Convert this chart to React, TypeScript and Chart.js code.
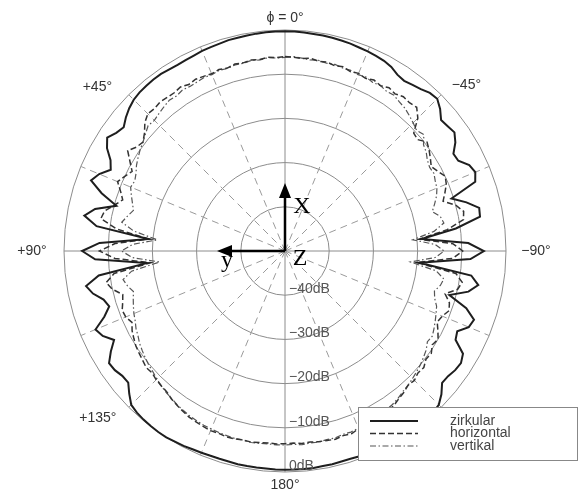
import { useEffect, useRef } from "react";
import { Chart, registerables } from "chart.js";

Chart.register(...registerables);

// Angular resolution of the measured pattern (degrees)
const STEP_DEG = 2.5;

// Right half: phi = 0° ... −180° (clockwise from top), dB
const zirkularRight = [
  -0.3, -0.3, -0.4, -0.5, -0.5, -0.6, -0.7, -0.8, -1.0, -1.1,
  -1.3, -1.5, -1.9, -2.7, -3.0, -2.6, -2.2, -1.5, -1.3, -2.4,
  -3.9, -3.6, -3.2, -4.3, -6.0, -5.8, -4.0, -3.4, -4.2, -10.5,
  -7.5, -5.0, -5.2, -11, -19, -8.5, -5.0, -8.0, -19.5, -7.5,
  -5.6, -7.5, -11.5, -7.0, -4.5, -5.0, -7.0, -6.5, -3.5, -2.8,
  -3.0, -3.5, -3.6, -2.0, -0.8, -0.4, -0.2, -0.1, 0, 0,
  -0.1, -0.2, -0.4, -0.5, -0.6, -0.7, -0.7, -0.6, -0.6, -0.5,
  -0.5, -0.5, -0.5,
];
// Left half: phi = +2.5° ... +177.5°, dB
const zirkularLeft = [
  -0.3, -0.3, -0.4, -0.5, -0.6, -0.6, -0.8, -0.9, -1.0, -1.2,
  -1.3, -1.4, -1.3, -1.1, -1.1, -1.2, -1.3, -1.6, -2.2, -3.0,
  -4.0, -3.4, -2.3, -3.5, -5.5, -6.5, -4.5, -3.3, -6.5, -10.5,
  -6.0, -3.9, -7, -19, -8, -4.1, -7, -18.6, -7.5, -4.3,
  -5.5, -7.5, -8.3, -6.5, -3.6, -4.5, -6.4, -4.5, -2.8, -3.0,
  -3.6, -3.7, -2.2, -0.8, -0.4, -0.2, -0.1, 0, 0, -0.2,
  -0.3, -0.5, -0.6, -0.7, -0.7, -0.7, -0.6, -0.6, -0.6, -0.6,
  -0.5,
];

const horizontalRight = [
  -6.0, -6.1, -6.3, -6.0, -6.4, -6.2, -6.6, -6.3, -6.8, -6.5,
  -6.9, -6.4, -6.8, -6.2, -6.6, -6.0, -6.2, -5.9, -7.5, -10.5,
  -10.8, -9.5, -10.2, -11.0, -11.8, -11.0, -10.0, -10.5, -11.5, -12.5,
  -10.0, -8.6, -9.0, -13, -19.5, -12, -9.8, -12, -20, -11,
  -9.3, -10, -12.5, -11, -10.5, -11.5, -12.0, -11.0, -10.0, -10.5,
  -9.6, -9.8, -9.0, -9.2, -8.6, -8.8, -8.2, -7.8, -7.2, -7.0,
  -6.6, -6.8, -6.3, -6.5, -6.0, -6.2, -5.9, -6.1, -6.2, -6.4,
  -6.3, -6.5, -6.4,
];
const horizontalLeft = [
  -6.2, -6.0, -6.3, -6.1, -6.4, -6.2, -6.6, -6.3, -6.6, -6.4,
  -6.2, -6.5, -6.0, -6.3, -6.2, -6.0, -6.3, -6.1, -7.0, -8.5,
  -9.5, -9.0, -7.8, -9.5, -11.0, -10.0, -9.0, -10.4, -11.5, -10.0,
  -8.2, -7.7, -11.5, -19.0, -11.5, -8.0, -11.5, -19.5, -11.0, -8.9,
  -10.0, -12.0, -11.5, -10.8, -11.0, -11.8, -11.0, -10.5, -10.0, -9.7,
  -9.4, -9.0, -9.2, -8.8, -8.6, -8.4, -7.8, -7.4, -7.0, -6.6,
  -6.4, -6.2, -6.0, -6.1, -5.9, -6.0, -6.2, -6.1, -6.3, -6.4,
  -6.3,
];

const vertikalRight = [
  -6.2, -6.0, -6.2, -6.4, -6.2, -6.5, -6.3, -6.6, -6.5, -6.8,
  -6.6, -7.0, -6.8, -7.2, -7.0, -7.5, -7.8, -8.4, -9.0, -9.6,
  -9.0, -10.5, -11.0, -11.8, -12.2, -12.0, -12.5, -12.8, -13.5, -14.5,
  -15.5, -14.0, -13.5, -16, -21, -16, -14, -16, -21.5, -15.5,
  -13.5, -14, -15, -14.5, -13.5, -13, -12.5, -12, -11.5, -11.8,
  -11, -10.5, -10, -9.6, -9.2, -8.8, -8.5, -8.0, -7.6, -7.4,
  -7.0, -6.8, -6.5, -6.6, -6.4, -6.5, -6.2, -6.3, -6.1, -6.2,
  -6.0, -6.2, -6.1,
];
const vertikalLeft = [
  -6.3, -6.1, -6.4, -6.2, -6.5, -6.4, -6.7, -6.5, -6.8, -6.7,
  -6.9, -7.0, -6.8, -7.2, -7.0, -7.4, -7.8, -8.2, -8.0, -8.8,
  -9.5, -10.0, -10.6, -11.2, -12.0, -12.5, -12.2, -13.0, -13.8, -14.5,
  -13.5, -12.5, -15.5, -21, -15.5, -13, -15.5, -21.5, -15, -12.8,
  -13.5, -14.5, -14, -13.5, -13, -12.6, -12, -11.6, -11, -10.6,
  -10.2, -9.8, -9.5, -9.0, -8.6, -8.2, -7.9, -7.5, -7.2, -6.9,
  -6.7, -6.5, -6.4, -6.3, -6.2, -6.1, -6.2, -6.0, -6.1, -6.2,
  -6.1,
];

const seriesNames = ["zirkular", "horizontal", "vertikal"];
const ringLabels = ["−40dB", "−30dB", "−20dB", "−10dB", "0dB"];
const ringValues = [-40, -30, -20, -10, 0];
const directionLabels = ["ϕ = 0°", "−45°", "−90°", "180°", "+135°", "+90°", "+45°"];
const directionAngles = [0, 47.5, 90, 180, 228.2, 270, 311.1]; // clockwise from top
const axisLetters = ["X", "y", "Z"];

// full circle, clockwise from top: phi 0 → −180 → +177.5 → +2.5
const fullCircle = (right: number[], left: number[]) => [...right, ...[...left].reverse()];
const angleCategories = fullCircle(
  zirkularRight.map((_, i) => (i === 0 ? "0°" : `−${i * STEP_DEG}°`)).map((s, i) => (i === 72 ? "180°" : s)),
  zirkularLeft.map((_, i) => `+${(i + 1) * STEP_DEG}°`)
);

const overlayPlugin = {
  id: "overlay",
  afterDatasetsDraw(chart: any) {
    const r = chart.scales.r;
    const ctx = chart.ctx;
    const n = angleCategories.length;
    ctx.save();
    // ring labels along the 180° spoke
    ctx.font = "14px 'Liberation Sans', Arial, sans-serif";
    ctx.fillStyle = "#555";
    ctx.textAlign = "left";
    ctx.textBaseline = "middle";
    ringValues.forEach((v, i) => {
      const d = r.getDistanceFromCenterForValue(v);
      ctx.fillText(ringLabels[i], r.xCenter + 4, r.yCenter + d - 6);
    });
    // direction labels
    const pads = [12, 25, 30, 13, 30, 32, 28];
    ctx.fillStyle = "#333";
    ctx.textAlign = "center";
    directionLabels.forEach((lab, i) => {
      const p = r.getPointPosition((directionAngles[i] / 360) * n, r.drawingArea + pads[i]);
      ctx.fillText(lab, p.x, p.y);
    });
    ctx.restore();
  },
  afterDraw(chart: any) {
    const r = chart.scales.r;
    const ctx = chart.ctx;
    const cx = r.xCenter;
    const cy = r.yCenter;
    ctx.save();
    // coordinate arrows
    ctx.strokeStyle = "#000";
    ctx.fillStyle = "#000";
    ctx.lineWidth = 2.5;
    ctx.setLineDash([]);
    ctx.beginPath();
    ctx.moveTo(cx, cy);
    ctx.lineTo(cx, cy - 56);
    ctx.moveTo(cx, cy);
    ctx.lineTo(cx - 56, cy);
    ctx.stroke();
    ctx.beginPath();
    ctx.moveTo(cx, cy - 68);
    ctx.lineTo(cx - 6, cy - 53);
    ctx.lineTo(cx + 6, cy - 53);
    ctx.closePath();
    ctx.fill();
    ctx.beginPath();
    ctx.moveTo(cx - 68, cy);
    ctx.lineTo(cx - 53, cy - 6);
    ctx.lineTo(cx - 53, cy + 6);
    ctx.closePath();
    ctx.fill();
    ctx.font = "24px 'Liberation Serif', 'Times New Roman', serif";
    ctx.textAlign = "center";
    ctx.textBaseline = "middle";
    ctx.fillText(axisLetters[0], cx + 17, cy - 44);
    ctx.fillText(axisLetters[1], cx - 58, cy + 10);
    ctx.fillText(axisLetters[2], cx + 15, cy + 8);

    // legend box
    const bx = 358, by = 407, bw = 219, bh = 53;
    ctx.fillStyle = "#fff";
    ctx.fillRect(bx, by, bw, bh);
    ctx.strokeStyle = "#888";
    ctx.lineWidth = 1;
    ctx.strokeRect(bx + 0.5, by + 0.5, bw, bh);
    const rows = [421, 433.5, 446];
    chart.data.datasets.forEach((ds: any, i: number) => {
      ctx.strokeStyle = ds.borderColor;
      ctx.lineWidth = ds.borderWidth;
      ctx.setLineDash(ds.borderDash || []);
      ctx.beginPath();
      ctx.moveTo(370, rows[i]);
      ctx.lineTo(418, rows[i]);
      ctx.stroke();
      ctx.setLineDash([]);
      ctx.fillStyle = "#444";
      ctx.font = "14px 'Liberation Sans', Arial, sans-serif";
      ctx.textAlign = "left";
      ctx.textBaseline = "middle";
      ctx.fillText(ds.label, 450, rows[i]);
    });
    ctx.restore();
  },
};

export default function App() {
  const ref = useRef<HTMLCanvasElement>(null);
  useEffect(() => {
    document.body.style.margin = "0";
    document.body.style.background = "#fff";
    const chart = new Chart(ref.current!, {
      type: "radar",
      data: {
        labels: angleCategories,
        datasets: [
          {
            label: seriesNames[0],
            data: fullCircle(zirkularRight, zirkularLeft),
            borderColor: "#1e1e1e",
            borderWidth: 2,
            borderDash: [],
            fill: false,
            pointRadius: 0,
            tension: 0,
          },
          {
            label: seriesNames[1],
            data: fullCircle(horizontalRight, horizontalLeft),
            borderColor: "#333",
            borderWidth: 1.5,
            borderDash: [6, 3],
            fill: false,
            pointRadius: 0,
            tension: 0,
          },
          {
            label: seriesNames[2],
            data: fullCircle(vertikalRight, vertikalLeft),
            borderColor: "#555",
            borderWidth: 1.2,
            borderDash: [6, 2.5, 1.5, 2.5],
            fill: false,
            pointRadius: 0,
            tension: 0,
          },
        ],
      },
      options: {
        responsive: false,
        animation: false,
        devicePixelRatio: 1,
        layout: { padding: { left: 64, right: 80, top: 30, bottom: 20 } },
        plugins: { legend: { display: false }, tooltip: { enabled: false } },
        scales: {
          r: {
            min: -50,
            max: 0,
            startAngle: 0,
            ticks: { display: false, stepSize: 10 },
            pointLabels: { display: false },
            grid: { circular: true, color: "#8c8c8c", lineWidth: 1 },
            angleLines: {
              display: true,
              color: (c: any) => (c.index % 36 === 0 ? "#8c8c8c" : "#9a9a9a"),
              lineWidth: (c: any) => (c.index % 9 === 0 ? 1 : 0),
              borderDash: (c: any) => (c.index % 36 === 0 ? [] : [7, 5]),
            },
          },
        },
      },
      plugins: [overlayPlugin],
    } as any);
    return () => chart.destroy();
  }, []);
  return (
    <div style={{ width: 586, height: 492, background: "#fff" }}>
      <canvas ref={ref} width={586} height={492} style={{ display: "block", width: 586, height: 492 }} />
    </div>
  );
}
